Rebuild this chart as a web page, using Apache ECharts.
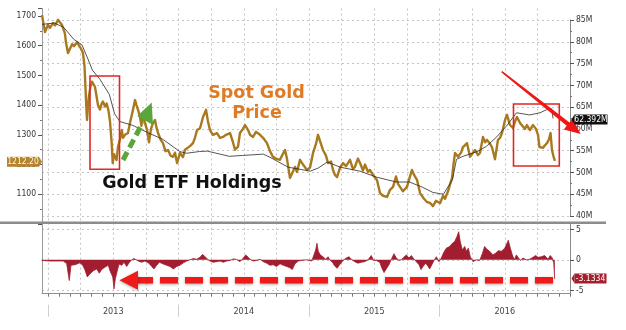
<!DOCTYPE html>
<html><head><meta charset="utf-8">
<script src="https://cdn.jsdelivr.net/npm/echarts@6/dist/echarts.min.js"></script>
<style>html,body{margin:0;padding:0;background:#fff}#c{width:626px;height:330px}</style>
</head><body><div id="c"></div><script>
// ---------- data ----------
const yearLabels = ['2013', '2014', '2015', '2016'];
const priceLabels = [1100, 1200, 1300, 1400, 1500, 1600, 1700];
const etfLabels = [40, 45, 50, 55, 60, 65, 70, 75, 80, 85];
const flowLabels = [-5, 0, 5];

// Spot gold price [decimal year, USD]
const gold = [[2012.954,1703],[2012.969,1665],[2012.977,1646],[2012.992,1662],[2013.000,1670],[2013.015,1660],[2013.038,1676],[2013.054,1668],[2013.077,1687],[2013.092,1678],[2013.107,1670],[2013.123,1650],[2013.130,1640],[2013.138,1610],[2013.153,1575],[2013.169,1590],[2013.184,1605],[2013.199,1598],[2013.222,1612],[2013.238,1600],[2013.253,1590],[2013.268,1575],[2013.280,1530],[2013.287,1460],[2013.295,1380],[2013.299,1350],[2013.307,1400],[2013.314,1430],[2013.326,1465],[2013.337,1479],[2013.349,1470],[2013.360,1461],[2013.372,1430],[2013.383,1400],[2013.398,1385],[2013.411,1405],[2013.421,1412],[2013.437,1395],[2013.450,1405],[2013.464,1380],[2013.475,1345],[2013.488,1272],[2013.496,1205],[2013.506,1235],[2013.513,1226],[2013.525,1215],[2013.536,1259],[2013.552,1285],[2013.565,1316],[2013.575,1290],[2013.590,1300],[2013.613,1306],[2013.628,1340],[2013.651,1384],[2013.667,1417],[2013.678,1400],[2013.690,1384],[2013.705,1360],[2013.716,1330],[2013.728,1373],[2013.743,1340],[2013.759,1316],[2013.774,1275],[2013.789,1320],[2013.805,1340],[2013.820,1350],[2013.831,1325],[2013.843,1306],[2013.862,1285],[2013.881,1272],[2013.900,1245],[2013.920,1249],[2013.939,1230],[2013.958,1226],[2013.973,1240],[2013.989,1205],[2014.000,1200],[2014.011,1239],[2014.034,1225],[2014.050,1250],[2014.065,1249],[2014.088,1262],[2014.111,1272],[2014.126,1290],[2014.142,1316],[2014.165,1322],[2014.188,1360],[2014.211,1384],[2014.226,1345],[2014.241,1316],[2014.264,1300],[2014.295,1306],[2014.318,1290],[2014.341,1293],[2014.364,1300],[2014.395,1306],[2014.414,1280],[2014.433,1250],[2014.456,1260],[2014.471,1306],[2014.494,1320],[2014.510,1333],[2014.533,1316],[2014.548,1300],[2014.571,1293],[2014.594,1310],[2014.625,1300],[2014.648,1290],[2014.678,1272],[2014.701,1245],[2014.724,1226],[2014.747,1220],[2014.778,1216],[2014.793,1230],[2014.816,1249],[2014.831,1220],[2014.854,1155],[2014.870,1170],[2014.893,1192],[2014.908,1175],[2014.931,1216],[2014.954,1200],[2014.985,1182],[2015.008,1190],[2015.031,1239],[2015.054,1270],[2015.069,1300],[2015.084,1280],[2015.107,1249],[2015.130,1230],[2015.146,1205],[2015.169,1210],[2015.184,1182],[2015.199,1165],[2015.215,1158],[2015.238,1190],[2015.261,1205],[2015.284,1195],[2015.314,1216],[2015.337,1185],[2015.352,1192],[2015.375,1220],[2015.391,1205],[2015.414,1180],[2015.429,1200],[2015.452,1175],[2015.467,1182],[2015.490,1165],[2015.521,1148],[2015.544,1104],[2015.567,1095],[2015.598,1091],[2015.621,1115],[2015.644,1125],[2015.667,1160],[2015.682,1135],[2015.697,1138],[2015.720,1110],[2015.751,1125],[2015.774,1160],[2015.789,1182],[2015.805,1165],[2015.828,1148],[2015.851,1104],[2015.881,1085],[2015.904,1074],[2015.927,1071],[2015.950,1060],[2015.973,1078],[2016.004,1070],[2016.027,1095],[2016.042,1085],[2016.065,1110],[2016.080,1114],[2016.096,1155],[2016.107,1200],[2016.119,1239],[2016.142,1226],[2016.165,1240],[2016.180,1259],[2016.195,1265],[2016.211,1272],[2016.234,1226],[2016.257,1240],[2016.272,1249],[2016.295,1232],[2016.310,1239],[2016.333,1293],[2016.349,1275],[2016.364,1283],[2016.387,1270],[2016.402,1259],[2016.425,1218],[2016.448,1283],[2016.464,1290],[2016.479,1306],[2016.502,1350],[2016.517,1367],[2016.540,1333],[2016.563,1323],[2016.579,1345],[2016.594,1360],[2016.617,1340],[2016.632,1343],[2016.655,1320],[2016.670,1333],[2016.693,1316],[2016.716,1333],[2016.739,1320],[2016.755,1300],[2016.766,1259],[2016.778,1255],[2016.793,1256],[2016.808,1265],[2016.824,1272],[2016.839,1285],[2016.851,1306],[2016.862,1249],[2016.874,1226],[2016.885,1212.2]];

// Gold ETF holdings [decimal year, million oz]
const etf = [[2012.954,84.0],[2013.05,84.3],[2013.12,83.3],[2013.20,80.5],[2013.26,79.3],[2013.30,76.5],[2013.34,73.5],[2013.40,71.3],[2013.47,67.9],[2013.51,63.5],[2013.55,61.7],[2013.65,60.8],[2013.76,59.2],[2013.88,57.6],[2014.01,54.8],[2014.06,54.4],[2014.16,54.8],[2014.22,54.9],[2014.39,53.7],[2014.49,53.9],[2014.65,54.2],[2014.70,53.5],[2014.84,51.2],[2015.01,50.3],[2015.07,51.0],[2015.14,52.4],[2015.24,51.2],[2015.39,50.3],[2015.52,48.9],[2015.67,47.8],[2015.77,47.8],[2015.87,46.6],[2015.95,45.4],[2016.03,45.0],[2016.10,48.4],[2016.13,53.0],[2016.18,53.7],[2016.29,54.8],[2016.36,56.0],[2016.44,58.2],[2016.52,60.9],[2016.59,63.7],[2016.69,63.2],[2016.77,63.7],[2016.82,64.4],[2016.86,64.6],[2016.87,62.392]];

// Daily ETF flows [decimal year, million oz]
const flows = [[2012.952,-0.1],[2013.015,-0.2],[2013.117,-0.2],[2013.143,-0.6],[2013.163,-3.4],[2013.176,-0.9],[2013.207,-0.8],[2013.245,-0.5],[2013.266,-0.9],[2013.284,-1.7],[2013.301,-2.8],[2013.322,-2.3],[2013.347,-1.8],[2013.373,-1.5],[2013.393,-2.2],[2013.411,-1.6],[2013.437,-1.2],[2013.462,-0.9],[2013.475,-1.8],[2013.496,-2.8],[2013.506,-4.75],[2013.516,-3.1],[2013.531,-1.8],[2013.544,-0.7],[2013.565,-0.9],[2013.582,-0.4],[2013.603,-1.1],[2013.621,-0.5],[2013.641,0],[2013.659,0.2],[2013.674,0.1],[2013.692,-0.2],[2013.718,-0.4],[2013.743,-0.2],[2013.769,-0.5],[2013.795,-1.1],[2013.812,-1.5],[2013.833,-0.9],[2013.853,-0.4],[2013.884,-0.7],[2013.909,-0.9],[2013.935,-1.1],[2013.960,-1.5],[2013.986,-1.1],[2014.011,-0.9],[2014.037,-0.5],[2014.063,-0.2],[2014.088,0],[2014.114,0.2],[2014.139,0.1],[2014.165,0.4],[2014.185,0.9],[2014.203,0.5],[2014.221,0.15],[2014.241,-0.2],[2014.267,-0.4],[2014.292,-0.3],[2014.318,-0.2],[2014.343,-0.4],[2014.369,-0.2],[2014.395,-0.1],[2014.420,0.15],[2014.446,0.05],[2014.471,-0.3],[2014.497,0.3],[2014.515,0.8],[2014.535,0.4],[2014.553,0],[2014.574,-0.2],[2014.599,-0.1],[2014.625,0.1],[2014.650,-0.3],[2014.676,-0.55],[2014.701,-0.9],[2014.726,-0.8],[2014.752,-1.1],[2014.778,-0.65],[2014.803,-0.9],[2014.829,-1.1],[2014.854,-1.3],[2014.872,-1.6],[2014.893,-0.65],[2014.918,-0.2],[2014.944,-0.1],[2014.982,0],[2015.021,-0.2],[2015.031,0.1],[2015.051,1.6],[2015.061,2.7],[2015.071,1.4],[2015.087,0.8],[2015.107,0.5],[2015.128,0.1],[2015.146,0.5],[2015.163,-0.1],[2015.179,-0.4],[2015.197,-1.0],[2015.215,-1.4],[2015.235,-0.8],[2015.261,-0.1],[2015.286,0.3],[2015.307,0.5],[2015.324,0.1],[2015.350,-0.3],[2015.375,-0.55],[2015.401,-0.4],[2015.427,-0.3],[2015.452,0],[2015.477,0.7],[2015.496,-0.1],[2015.516,-0.1],[2015.542,-0.4],[2015.559,-1.4],[2015.575,-2.1],[2015.592,-1.5],[2015.613,-0.8],[2015.636,0.3],[2015.651,1.0],[2015.669,0.3],[2015.690,-0.1],[2015.707,0],[2015.726,0.4],[2015.746,0.8],[2015.766,0.3],[2015.784,0.7],[2015.805,0.1],[2015.822,-0.3],[2015.843,-0.8],[2015.858,-1.6],[2015.874,-1.1],[2015.894,-0.55],[2015.910,-1.0],[2015.925,-1.5],[2015.940,-1.6],[2015.958,-0.1],[2015.976,0.5],[2015.996,-0.3],[2016.014,0.3],[2016.032,1.2],[2016.052,1.9],[2016.078,2.2],[2016.098,2.7],[2016.116,3.0],[2016.134,3.8],[2016.147,4.6],[2016.159,3.0],[2016.175,1.6],[2016.193,2.2],[2016.205,1.4],[2016.221,1.9],[2016.236,0.5],[2016.257,-0.3],[2016.282,0],[2016.308,-0.1],[2016.328,1.0],[2016.346,2.2],[2016.359,1.8],[2016.384,1.4],[2016.410,0.8],[2016.431,1.1],[2016.451,1.5],[2016.474,1.4],[2016.500,1.9],[2016.517,2.7],[2016.527,3.2],[2016.543,1.9],[2016.558,0.8],[2016.573,0],[2016.589,0.8],[2016.602,0.5],[2016.619,-0.1],[2016.640,0.3],[2016.665,0],[2016.691,0.1],[2016.716,0.4],[2016.737,0.7],[2016.755,0.4],[2016.780,0.5],[2016.806,0.7],[2016.831,0.1],[2016.849,0.7],[2016.864,0.3],[2016.875,-0.5],[2016.883,-3.1334]];

// ---------- layout helpers ----------
const X_MIN = 2012.954, X_MAX = 2017.0;
const quarters = []; for (let q = 0; q < 16; q++) quarters.push(2013 + q / 4);
const months = []; for (let m = 0; m <= 48; m++) months.push(2013 + m / 12);
const yearStarts = yearLabels.map(y => +y);
const yearMids = yearLabels.map(y => +y + 0.5);

const FONT = '"Liberation Sans Narrow","DejaVu Sans Condensed","Liberation Sans",sans-serif';
const GRID_COLOR = '#c4c4c4';
const dotted = { show: true, lineStyle: { color: GRID_COLOR, type: [2, 3], width: 1 } };
const hidden = { show: false };
const lastGold = gold[gold.length - 1][1];
const lastEtf = etf[etf.length - 1][1];
const lastFlow = flows[flows.length - 1][1];

const chart = echarts.init(document.getElementById('c'), null, { renderer: 'canvas' });

const option = {
  animation: false,
  backgroundColor: '#ffffff',
  grid: [
    { left: 42, right: 56, top: 8.5, bottom: 106 },    // 0 price
    { left: 42, right: 56, top: 20, bottom: 114 },     // 1 etf
    { left: 42, right: 56, top: 222.7, bottom: 36.3 }, // 2 lower frame
    { left: 42, right: 56, top: 229.3, bottom: 39.7 }  // 3 flows
  ],
  xAxis: [
    { gridIndex: 0, type: 'value', min: X_MIN, max: X_MAX, axisLine: { show: false, onZero: false },
      axisTick: { show: false, customValues: quarters }, axisLabel: hidden, splitLine: dotted },
    { gridIndex: 1, type: 'value', min: X_MIN, max: X_MAX, axisLine: { show: false, onZero: false },
      axisTick: hidden, axisLabel: hidden, splitLine: hidden },
    { gridIndex: 2, type: 'value', position: 'bottom', min: X_MIN, max: X_MAX,
      axisLine: { show: true, onZero: false, lineStyle: { color: '#8f8f8f', width: 1 } },
      axisTick: { show: true, customValues: months, length: 3, lineStyle: { color: '#777' } },
      axisLabel: { show: true, customValues: yearMids, margin: 13, color: '#444', fontSize: 9, fontFamily: FONT,
        formatter: v => yearLabels[Math.floor(v) - 2013] },
      splitLine: hidden },
    { gridIndex: 2, type: 'value', position: 'bottom', offset: 11, min: X_MIN, max: X_MAX,
      axisLine: { show: false, onZero: false },
      axisTick: { show: true, customValues: yearStarts, length: 12, lineStyle: { color: '#cfcfcf', width: 1 } },
      axisLabel: hidden, splitLine: hidden },
    { gridIndex: 2, type: 'value', position: 'top', min: X_MIN, max: X_MAX,
      axisLine: { show: false, onZero: false }, axisTick: { show: false, customValues: quarters },
      axisLabel: hidden, splitLine: dotted },
    { gridIndex: 3, type: 'value', min: X_MIN, max: X_MAX, axisLine: { show: false, onZero: false },
      axisTick: hidden, axisLabel: hidden, splitLine: hidden }
  ],
  yAxis: [
    { gridIndex: 0, type: 'value', position: 'left', min: 1000, max: 1725, interval: 100,
      axisLine: { show: true, onZero: false, lineStyle: { color: '#9a9a9a' } },
      axisTick: { show: true, length: 4, lineStyle: { color: '#555' } },
      minorTick: { show: true, splitNumber: 2, length: 2, lineStyle: { color: '#777' } },
      axisLabel: { margin: 6, color: '#333', fontSize: 8.5, fontFamily: FONT, showMaxLabel: false,
        formatter: v => priceLabels.indexOf(v) >= 0 ? String(v) : '' },
      splitLine: hidden },
    { gridIndex: 1, type: 'value', position: 'right', min: 40, max: 85, interval: 5,
      axisLine: { show: true, onZero: false, lineStyle: { color: '#8a8a8a' } },
      axisTick: { show: true, length: 4, lineStyle: { color: '#555' } },
      minorTick: { show: true, splitNumber: 2, length: 2, lineStyle: { color: '#777' } },
      axisLabel: { margin: 6, color: '#333', fontSize: 8.5, fontFamily: FONT,
        formatter: v => etfLabels.indexOf(v) >= 0 ? v + 'M' : '' },
      splitLine: dotted },
    { gridIndex: 2, type: 'value', position: 'left', min: 0, max: 1,
      axisLine: { show: true, onZero: false, lineStyle: { color: '#9a9a9a' } },
      axisTick: hidden, axisLabel: hidden, splitLine: hidden },
    { gridIndex: 2, type: 'value', position: 'right', min: 0, max: 1,
      axisLine: { show: true, onZero: false, lineStyle: { color: '#8a8a8a' } },
      axisTick: hidden, axisLabel: hidden, splitLine: hidden },
    { gridIndex: 3, type: 'value', position: 'right', min: -5, max: 5, interval: 5,
      axisLine: { show: false, onZero: false },
      axisTick: { show: true, length: 4, lineStyle: { color: '#555' } },
      axisLabel: { margin: 6, color: '#333', fontSize: 8.5, fontFamily: FONT,
        formatter: v => flowLabels.indexOf(v) >= 0 ? String(v) : '' },
      splitLine: dotted }
  ],
  series: [
    { name: 'Spot Gold', type: 'line', xAxisIndex: 0, yAxisIndex: 0, data: gold,
      showSymbol: false, symbol: 'none', z: 3,
      lineStyle: { color: '#a9791f', width: 2.4, join: 'round' } },
    { name: 'Gold ETF Holdings', type: 'line', xAxisIndex: 1, yAxisIndex: 1, data: etf,
      showSymbol: false, symbol: 'none', z: 4,
      lineStyle: { color: '#2a2a2a', width: 0.8 } },
    { name: 'ETF flows', type: 'line', xAxisIndex: 5, yAxisIndex: 4, data: flows,
      showSymbol: false, symbol: 'none', z: 3,
      lineStyle: { color: '#a21d30', width: 0.8 },
      areaStyle: { color: '#a21d30', opacity: 1 } }
  ],
  graphic: { elements: [
    // panel separator
    { type: 'line', shape: { x1: 0, y1: 222.7, x2: 606, y2: 222.7 }, style: { stroke: '#8c8c8c', lineWidth: 2.5 }, z: 50 },
    // red boxes
    { type: 'rect', shape: { x: 90, y: 76, width: 29.5, height: 93.3 }, style: { fill: 'none', stroke: '#e22626', lineWidth: 1.6 }, z: 60 },
    { type: 'rect', shape: { x: 513.5, y: 104, width: 45.8, height: 62 }, style: { fill: 'none', stroke: '#e22626', lineWidth: 1.6 }, z: 60 },
    // annotation texts
    { type: 'text', z: 70, style: { text: 'Spot Gold', x: 256.5, y: 93, align: 'center', verticalAlign: 'middle',
      font: 'bold 17.5px "DejaVu Sans"', fill: '#e07b25' } },
    { type: 'text', z: 70, style: { text: 'Price', x: 257, y: 113.5, align: 'center', verticalAlign: 'middle',
      font: 'bold 17.5px "DejaVu Sans"', fill: '#e07b25' } },
    { type: 'text', z: 70, style: { text: 'Gold ETF Holdings', x: 192, y: 183.5, align: 'center', verticalAlign: 'middle',
      font: 'bold 17.5px "DejaVu Sans"', fill: '#111' } },
    // green dashed arrow
    { type: 'line', z: 65, shape: { x1: 123, y1: 160, x2: 143, y2: 122 }, style: { stroke: '#5aa63a', lineWidth: 5, lineDash: [9, 5] } },
    { type: 'polygon', z: 65, shape: { points: [[151.7, 102.5], [137.3, 116], [153, 125]] }, style: { fill: '#5aa63a' } },
    // red arrow top-right
    { type: 'polygon', z: 75, shape: { points: [[501.2, 72.3], [566.7, 125.8], [563.8, 129.6], [580.7, 134], [572.4, 118.6], [569.5, 122.4], [502.2, 71.1]] },
      style: { fill: '#ef1616' } },
    // red dashed arrow bottom
    { type: 'line', z: 75, shape: { x1: 135, y1: 280.3, x2: 554.5, y2: 280.3 },
      style: { stroke: '#ee1b1b', lineWidth: 6.5, lineDash: [18, 7], shadowBlur: 3, shadowColor: 'rgba(0,0,0,0.35)', shadowOffsetY: 1 } },
    { type: 'polygon', z: 75, shape: { points: [[119.5, 280.3], [138, 270.8], [138, 289.8]] },
      style: { fill: '#ee1b1b', shadowBlur: 3, shadowColor: 'rgba(0,0,0,0.35)', shadowOffsetY: 1 } },
    // value tags
    { type: 'rect', z: 80, shape: { x: 7, y: 156.8, width: 32, height: 10 }, style: { fill: '#b5842e' } },
    { type: 'polygon', z: 80, shape: { points: [[39, 156.8], [42, 161.8], [39, 166.8]] }, style: { fill: '#b5842e' } },
    { type: 'text', z: 81, style: { text: lastGold.toFixed(2), x: 23, y: 162, align: 'center', verticalAlign: 'middle',
      font: '8.5px ' + FONT, fill: '#fff6e0' } },
    { type: 'rect', z: 80, shape: { x: 574.5, y: 114.5, width: 33, height: 10 }, style: { fill: '#111' } },
    { type: 'polygon', z: 80, shape: { points: [[574.5, 114.5], [571.5, 119.5], [574.5, 124.5]] }, style: { fill: '#111' } },
    { type: 'text', z: 81, style: { text: lastEtf.toFixed(3) + 'M', x: 591, y: 119.7, align: 'center', verticalAlign: 'middle',
      font: '8.5px ' + FONT, fill: '#fff' } },
    { type: 'rect', z: 80, shape: { x: 574.5, y: 273.5, width: 32, height: 10 }, style: { fill: '#a5202f' } },
    { type: 'polygon', z: 80, shape: { points: [[574.5, 273.5], [571.5, 278.5], [574.5, 283.5]] }, style: { fill: '#a5202f' } },
    { type: 'text', z: 81, style: { text: lastFlow.toFixed(4), x: 590.5, y: 278.7, align: 'center', verticalAlign: 'middle',
      font: '8.5px ' + FONT, fill: '#fff' } }
  ] }
};
chart.setOption(option);
</script></body></html>
